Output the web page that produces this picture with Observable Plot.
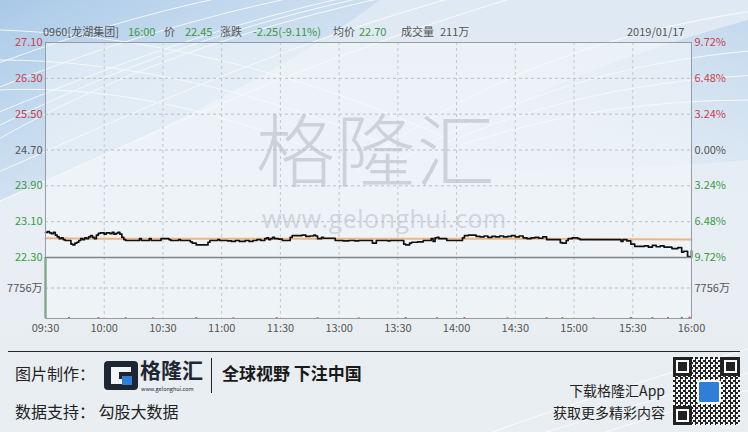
<!DOCTYPE html>
<html><head><meta charset="utf-8">
<script src="https://cdn.jsdelivr.net/npm/d3@7"></script>
<script src="https://cdn.jsdelivr.net/npm/@observablehq/plot@0.6"></script>
<style>
body{margin:0;width:748px;height:432px;overflow:hidden;font-family:"Noto Sans CJK SC",sans-serif;}
#root{position:relative;width:748px;height:432px;overflow:hidden;
 background:linear-gradient(180deg,#dfe9f3 0%,#e7eef5 50%,#e8edf1 80%,#e9eef2 100%);}
.abs{position:absolute;white-space:nowrap;}
.hd{position:absolute;top:23px;font-size:11px;line-height:16px;color:#555;}
.g{color:#3a9a3e}
#plotarea{position:absolute;left:45px;top:42px;width:646px;height:276px;background:rgba(244,247,250,0.55);}
#plots svg{position:absolute;left:0;top:0;}
</style></head><body><div id="root">
<svg class="abs" style="left:0;top:0" width="748" height="432">
 <defs>
  <linearGradient id="bl" x1="0" y1="0" x2="1" y2="1">
   <stop offset="0" stop-color="#a9c9e8"/><stop offset="0.6" stop-color="#c9ddf0" stop-opacity="0.6"/><stop offset="1" stop-color="#dde9f4" stop-opacity="0"/>
  </linearGradient>
  <linearGradient id="br" x1="1" y1="0" x2="0" y2="1">
   <stop offset="0" stop-color="#bcd5ec"/><stop offset="1" stop-color="#dde9f4" stop-opacity="0"/>
  </linearGradient>
 </defs>
 <path d="M0,0 L380,0 C300,60 170,130 0,200 Z" fill="url(#bl)"/>
 <path d="M400,170 C520,90 640,50 748,20 L748,160 C640,170 520,170 400,170 Z" fill="url(#br)" opacity="0.8"/>
 <g fill="none" stroke="#ffffff" stroke-width="1" opacity="0.85">
  <path d="M-20,150 C80,90 220,30 420,-10"/>
  <path d="M-20,135 C90,80 220,25 400,-10"/>
  <path d="M-20,120 C100,70 230,20 380,-10"/>
  <path d="M-20,95 C90,50 200,15 330,-10"/>
  <path d="M-20,70 C60,40 150,10 260,-10"/>
  <path d="M-20,180 C120,120 260,50 480,-10"/>
  <path d="M-20,210 C140,140 300,60 540,-10"/>
  <path d="M0,60 C120,60 260,90 400,150"/>
  <path d="M0,30 C140,35 300,70 450,140"/>
  <path d="M0,90 C110,85 230,110 360,170"/>
  <path d="M400,160 C520,90 640,60 760,50"/>
  <path d="M430,150 C540,100 650,80 760,75"/>
  <path d="M460,145 C570,110 660,100 760,100"/>
  <path d="M380,150 C500,70 620,30 760,10"/>
  <path d="M470,440 C580,400 680,370 760,345"/>
  <path d="M520,440 C620,410 700,385 760,370"/>
  <path d="M580,440 C660,415 720,395 760,388"/>
 </g>
 <line x1="8" y1="351.5" x2="740" y2="351.5" stroke="#1f2a36" stroke-width="1"/>
</svg>
<div id="plotarea"></div>
<div class="abs" style="left:256px;top:114px;font-size:79px;line-height:80px;color:#cdd2d8;font-weight:300;letter-spacing:1px;font-family:'Liberation Sans','Noto Sans CJK SC',sans-serif;">格隆汇</div>
<div class="abs" style="left:262px;top:205px;font-size:25px;line-height:26px;color:#d0d5db;letter-spacing:0.5px;font-family:'Open Sans',sans-serif;">www.gelonghui.com</div>
<div id="plots"></div>
<div class="hd" style="left:43px">0960[龙湖集团]</div>
<div class="hd g" style="left:128px">16:00</div>
<div class="hd" style="left:164px">价</div>
<div class="hd g" style="left:185px">22.45</div>
<div class="hd" style="left:220px">涨跌</div>
<div class="hd g" style="left:253px">-2.25(-9.11%)</div>
<div class="hd" style="left:333px">均价</div>
<div class="hd g" style="left:359px">22.70</div>
<div class="hd" style="left:401px">成交量</div>
<div class="hd" style="left:440px">211万</div>
<div class="hd" style="left:627px">2019/01/17</div>

<div class="abs" style="left:15px;top:362px;font-size:16px;line-height:22px;color:#222;">图片制作：</div>
<div class="abs" style="left:104px;top:361px;width:34px;height:29px;background:#1d2733;border-radius:4px;"></div>
<div class="abs" style="left:111px;top:367px;width:20px;height:17px;background:#f2f5f8;clip-path:polygon(0 0,100% 0,100% 30%,40% 30%,40% 70%,100% 70%,100% 100%,0 100%);"></div>
<div class="abs" style="left:122px;top:376px;width:10px;height:9px;background:#2f7fd8;"></div>
<div class="abs" style="left:140px;top:359px;font-size:21px;line-height:24px;color:#1d2733;font-weight:bold;font-family:'Liberation Sans','Noto Sans CJK SC',sans-serif;">格隆汇</div>
<div class="abs" style="left:141px;top:386px;font-size:5.5px;line-height:6px;color:#1d2733;">www.gelonghui.com</div>
<div class="abs" style="left:211px;top:358px;width:1px;height:35px;background:#222;"></div>
<div class="abs" style="left:222px;top:362px;font-size:17px;line-height:22px;color:#1a1a1a;font-weight:bold;">全球视野 下注中国</div>
<div class="abs" style="left:15px;top:400px;font-size:16px;line-height:22px;color:#222;">数据支持： 勾股大数据</div>
<div class="abs" style="right:83px;top:380px;font-size:14px;line-height:20px;color:#222;text-align:right;">下载格隆汇App</div>
<div class="abs" style="right:83px;top:402px;font-size:14px;line-height:20px;color:#222;text-align:right;">获取更多精彩内容</div>
<div class="abs" style="left:673px;top:357px;width:67px;height:68px;background:repeating-conic-gradient(#222 0 25%,#f4f6f8 0 50%) 0 0/5px 5px;"></div>
<div class="abs" style="left:673px;top:357px;width:13px;height:13px;border:3px solid #222;background:#fff;box-shadow:inset 0 0 0 2px #fff,inset 0 0 0 8px #222;"></div>
<div class="abs" style="left:721px;top:357px;width:13px;height:13px;border:3px solid #222;background:#fff;box-shadow:inset 0 0 0 2px #fff,inset 0 0 0 8px #222;"></div>
<div class="abs" style="left:673px;top:406px;width:13px;height:13px;border:3px solid #222;background:#fff;box-shadow:inset 0 0 0 2px #fff,inset 0 0 0 8px #222;"></div>
<div class="abs" style="left:697px;top:380px;width:20px;height:20px;background:#2f7fd8;border:2px solid #fff;border-radius:3px;"></div>
</div>
<script>
// ---- data ----
const priceMinutes = [0,1,2,3,4,5,6,7,8,9,10,13,14,15,16,17,18,19,20,21,22,23,24,25,26,27,28,30,31,33,34,35,36,37,38,39,40,41,48,49,53,54,59,61,63,64,68,69,74,75,77,83,84,88,89,93,95,97,99,102,104,106,108,110,112,113,114,115,116,117,119,121,125,126,131,133,135,137,138,139,141,142,148,152,155,158,160,167,169,175,176,183,184,186,187,190,193,197,198,199,200,201,205,213,214,216,220,222,224,226,228,230,232,234,236,238,240,242,244,246,248,250,252,254,256,263,264,266,267,269,272,273,294,295,297,299,301,306,308,310,312,314,316,320,323,325,326,328,329,330];
const priceValues = [22.86,22.88,22.85,22.83,22.86,22.80,22.76,22.72,22.74,22.70,22.68,22.60,22.58,22.62,22.64,22.68,22.72,22.70,22.74,22.72,22.76,22.79,22.75,22.72,22.80,22.84,22.85,22.82,22.85,22.83,22.86,22.82,22.84,22.86,22.82,22.75,22.70,22.68,22.72,22.68,22.72,22.68,22.72,22.72,22.70,22.68,22.70,22.68,22.65,22.62,22.58,22.64,22.68,22.70,22.68,22.67,22.66,22.68,22.66,22.68,22.66,22.68,22.70,22.68,22.72,22.74,22.70,22.72,22.75,22.72,22.71,22.68,22.75,22.79,22.80,22.77,22.78,22.80,22.78,22.72,22.75,22.73,22.68,22.67,22.68,22.67,22.68,22.62,22.68,22.67,22.68,22.60,22.58,22.62,22.64,22.65,22.68,22.72,22.66,22.74,22.75,22.72,22.68,22.74,22.79,22.80,22.77,22.76,22.78,22.75,22.77,22.76,22.78,22.76,22.77,22.79,22.76,22.78,22.74,22.72,22.74,22.75,22.73,22.76,22.70,22.63,22.62,22.68,22.72,22.74,22.72,22.70,22.66,22.70,22.67,22.60,22.55,22.56,22.53,22.57,22.54,22.56,22.53,22.50,22.52,22.42,22.44,22.32,22.31,22.45];
const avgMinutes = [0,30,120,250,300,330];
const avgValues = [22.73,22.72,22.72,22.72,22.71,22.70];
const volMinutes = [0,12,27,41,55,77,96,118,139,160,184,200,214,236,256,264,280,299,310,318,325,329];
const volValues  = [15512,260,200,180,150,240,160,220,190,150,230,170,210,160,180,200,150,260,230,220,300,320];
const volUp      = [false,false,true,false,true,false,true,true,false,false,false,true,true,false,false,false,true,false,false,true,false,true];
const volMax = 15512;
const volTick = 7756;
const volTickLabel = "7756万";
const priceTicks = [27.10,26.30,25.50,24.70,23.90,23.10,22.30];
const priceLabels = ["27.10","26.30","25.50","24.70","23.90","23.10","22.30"];
const pctLabels = ["9.72%","6.48%","3.24%","0.00%","3.24%","6.48%","9.72%"];
const prevClose = 24.70;
const timeTicks = [0,30,60,90,120,150,180,210,240,270,300,330];
const timeLabels = ["09:30","10:00","10:30","11:00","11:30","13:00","13:30","14:00","14:30","15:00","15:30","16:00"];

const RED = "#c9414c", GREEN = "#3a9a3e", GRAY = "#555";
const colorOf = v => v > prevClose ? RED : v < prevClose ? GREEN : GRAY;
const priceData = priceMinutes.map((m,i)=>({m, p: priceValues[i]}));
const avgData = avgMinutes.map((m,i)=>({m, p: avgValues[i]}));
const volData = volMinutes.map((m,i)=>({m, v: volValues[i], up: volUp[i]}));
const tickData = priceTicks.map((v,i)=>({v, l: priceLabels[i], r: pctLabels[i]}));
const font = '"Noto Sans CJK SC", sans-serif';

const plotA = Plot.plot({
  width:748, height:257, marginLeft:45, marginRight:57, marginTop:42, marginBottom:0,
  x:{domain:[0,330], axis:null},
  y:{domain:[22.30,27.10], axis:null},
  style:{background:"transparent", fontFamily:font, fontSize:"11px", overflow:"visible"},
  marks:[
    Plot.ruleY(priceTicks.slice(1,-1), {stroke:"#b9bfc5", strokeDasharray:"3,3"}),
    Plot.ruleX(timeTicks.slice(1,-1), {stroke:"#c3c8cd", strokeDasharray:"3,3"}),
    Plot.line(avgData, {x:"m", y:"p", stroke:"#ebb584", strokeWidth:2}),
    Plot.line(priceData, {x:"m", y:"p", curve:"step-after", stroke:"#111", strokeWidth:1.7}),
    Plot.text(tickData, {y:"v", text:"l", frameAnchor:"left", dx:-3, textAnchor:"end", fill:d=>colorOf(d.v), fontSize:11}),
    Plot.text(tickData, {y:"v", text:"r", frameAnchor:"right", dx:3, textAnchor:"start", fill:d=>colorOf(d.v), fontSize:11}),
    Plot.frame({stroke:"#959ca3"})
  ]
});

const plotB = Plot.plot({
  width:748, height:340, marginLeft:45, marginRight:57, marginTop:257, marginBottom:22,
  x:{domain:[0,330]},
  y:{domain:[0,volMax], axis:null},
  style:{background:"transparent", fontFamily:font, fontSize:"11px", overflow:"visible"},
  marks:[
    Plot.ruleY([volTick], {stroke:"#b9bfc5", strokeDasharray:"3,3"}),
    Plot.ruleY([0], {stroke:"#b9bfc5", strokeDasharray:"3,3"}),
    Plot.ruleX(timeTicks.slice(1,-1), {stroke:"#c3c8cd", strokeDasharray:"3,3"}),
    Plot.ruleX(volData, {x:"m", y1:0, y2:"v", stroke:d=>d.up?RED:GREEN, strokeWidth:2}),
    Plot.text([volTick], {y:d=>d, text:()=>volTickLabel, frameAnchor:"left", dx:-3, textAnchor:"end", fill:GRAY, fontSize:11}),
    Plot.text([volTick], {y:d=>d, text:()=>volTickLabel, frameAnchor:"right", dx:3, textAnchor:"start", fill:GRAY, fontSize:11}),
    Plot.axisX(timeTicks, {tickFormat:d=>timeLabels[timeTicks.indexOf(d)], tickSize:0, tickPadding:6, fill:GRAY, fontSize:11, label:null}),
    Plot.frame({stroke:"#959ca3"}),
    Plot.ruleY([volMax], {stroke:"#7b838b", strokeWidth:1.6})
  ]
});
const holder = document.getElementById("plots");
holder.appendChild(plotA);
holder.appendChild(plotB);
</script>
</body></html>
